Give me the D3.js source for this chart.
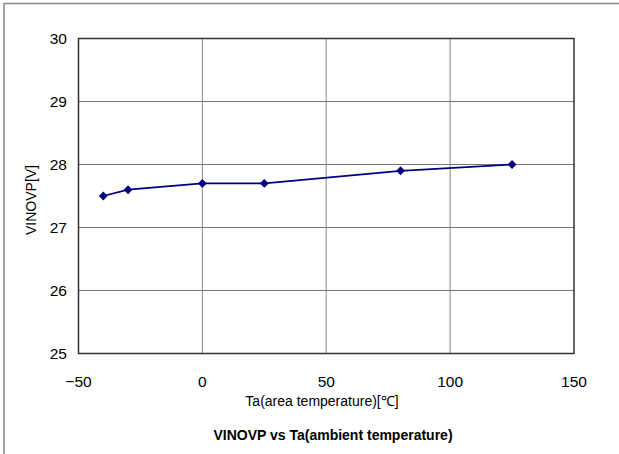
<!DOCTYPE html>
<html>
<head>
<meta charset="utf-8">
<script src="https://cdn.jsdelivr.net/npm/d3@7"></script>
<style>
  body { margin: 0; background: #fff; }
  text { font-family: "Liberation Sans", Arial, sans-serif; fill: #000; }
</style>
</head>
<body>
<svg id="chart" width="619" height="454"></svg>
<script>
// VINOVP vs ambient temperature
const temps = [-40, -30, 0, 25, 80, 125];
const vinovp = [27.5, 27.6, 27.7, 27.7, 27.9, 28.0];
const xTicks = [-50, 0, 50, 100, 150];
const yTicks = [25, 26, 27, 28, 29, 30];

const svg = d3.select("#chart");
const plotL = 78.5, plotR = 574, plotT = 38.5, plotB = 353.5;

// outer frame (only left/top visible in the picture)
svg.append("path")
    .attr("d", "M4,454 L4,3.5 L619,3.5")
    .attr("fill", "none")
    .attr("stroke", "#888")
    .attr("stroke-width", 1.5);

const x = d3.scaleLinear().domain([-50, 150]).range([plotL, plotR]);
const y = d3.scaleLinear().domain([25, 30]).range([plotB, plotT]);

// grid
svg.append("g")
    .selectAll("line")
    .data(xTicks.slice(1, -1))
    .join("line")
    .attr("x1", d => x(d)).attr("x2", d => x(d))
    .attr("y1", plotT).attr("y2", plotB)
    .attr("stroke", "#999")
    .attr("stroke-width", 1.2);

svg.append("g")
    .selectAll("line")
    .data(yTicks.slice(1, -1))
    .join("line")
    .attr("x1", plotL).attr("x2", plotR)
    .attr("y1", d => y(d)).attr("y2", d => y(d))
    .attr("stroke", "#777")
    .attr("stroke-width", 1.2);

svg.append("rect")
    .attr("x", plotL).attr("y", plotT)
    .attr("width", plotR - plotL).attr("height", plotB - plotT)
    .attr("fill", "none")
    .attr("stroke", "#333")
    .attr("stroke-width", 1.5);

// tick labels
svg.append("g")
    .selectAll("text")
    .data(yTicks)
    .join("text")
    .attr("x", 67)
    .attr("y", d => y(d) + 5.5)
    .attr("text-anchor", "end")
    .attr("font-size", 15.5)
    .text(d => d);

svg.append("g")
    .selectAll("text")
    .data(xTicks)
    .join("text")
    .attr("x", d => x(d))
    .attr("y", 387)
    .attr("text-anchor", "middle")
    .attr("font-size", 15.5)
    .text(d => d === -50 ? "\u221250" : d);

// axis titles
svg.append("text")
    .attr("x", 322).attr("y", 406)
    .attr("text-anchor", "middle")
    .attr("font-size", 14)
    .text("Ta(area temperature)[\u2103]");

svg.append("text")
    .attr("transform", "translate(36,200) rotate(-90)")
    .attr("text-anchor", "middle")
    .attr("font-size", 14)
    .text("VINOVP[V]");

svg.append("text")
    .attr("x", 333).attr("y", 440)
    .attr("text-anchor", "middle")
    .attr("font-size", 14)
    .attr("font-weight", "bold")
    .text("VINOVP vs Ta(ambient temperature)");

// series
const pts = temps.map((t, i) => [t, vinovp[i]]);
svg.append("path")
    .datum(pts)
    .attr("d", d3.line().x(d => x(d[0])).y(d => y(d[1])))
    .attr("fill", "none")
    .attr("stroke", "#000080")
    .attr("stroke-width", 1.8);

svg.append("g")
    .selectAll("path")
    .data(pts)
    .join("path")
    .attr("transform", d => `translate(${x(d[0])},${y(d[1])})`)
    .attr("d", d3.symbol(d3.symbolDiamond2, 50)())
    .attr("fill", "#000080");
</script>
</body>
</html>
